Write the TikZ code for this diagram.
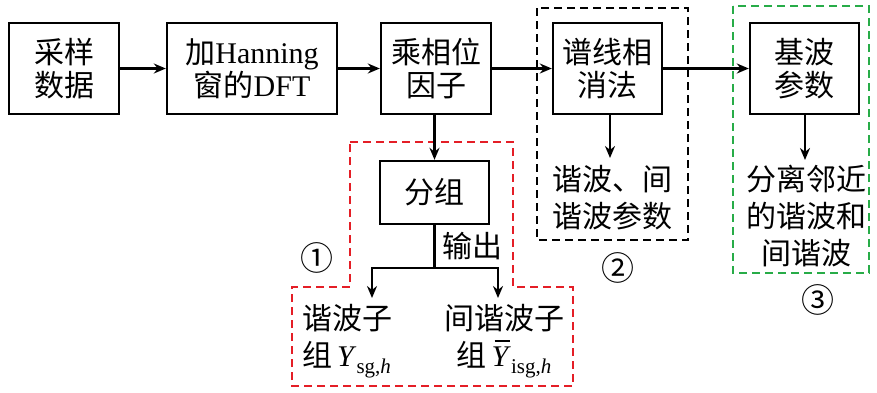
\documentclass[tikz,border=0pt]{standalone}
\usepackage{fontspec}
\setmainfont{Liberation Serif}
\newfontfamily\cjk{Noto Sans CJK SC}
\usetikzlibrary{arrows.meta}
\newcommand\zh[1]{{\cjk #1}}
\newcommand\subsc[1]{\raisebox{-0.22em}{\fontsize{21}{21}\selectfont #1}}
\newcommand\barY{\makebox[0pt][l]{\hspace{0.1em}\rule[0.8em]{0.5em}{2pt}}\textit{Y}}
\definecolor{rdash}{RGB}{228,30,38}
\definecolor{gdash}{RGB}{40,172,72}
\begin{document}
\begin{tikzpicture}[x=1pt,y=-1pt,
  blk/.style={draw, line width=2.4pt, inner sep=0pt, align=center,
    font=\fontsize{30}{33}\selectfont},
  txt/.style={inner sep=0pt, font=\fontsize{30}{37}\selectfont},
  circ/.style={inner sep=0pt, font=\fontsize{33}{36}\selectfont},
  arr/.style={line width=2.2pt, -{Stealth[length=12pt,width=10pt]}},
  ln/.style={line width=2.2pt},
  grp/.style={line width=2.2pt, dash pattern=on 8pt off 5pt}
]
\useasboundingbox (0,0) rectangle (877,392);
% main boxes
\node[blk, minimum width=110pt, minimum height=91pt] (b1) at (64,68.5) {\zh{采样}\\\zh{数据}};
\node[blk, minimum width=170pt, minimum height=91pt] (b2) at (252,68.5) {\zh{加}Hanning\\\zh{窗的}DFT};
\node[blk, minimum width=110pt, minimum height=91pt] (b3) at (436,68.5) {\zh{乘相位}\\\zh{因子}};
\node[blk, minimum width=109pt, minimum height=91pt] (b4) at (607.5,68.5) {\zh{谱线相}\\\zh{消法}};
\node[blk, minimum width=109pt, minimum height=91pt] (b5) at (804.5,68.5) {\zh{基波}\\\zh{参数}};
\node[blk, minimum width=109pt, minimum height=63pt] (g) at (434.5,192.5) {\zh{分组}};
% group frames
\draw[grp] (537,8) rectangle (688,240);
\draw[grp, gdash] (733,6) rectangle (869,273);
\draw[grp, rdash] (350,142) -- (513,142) -- (513,287) -- (573,287) -- (573,386)
  -- (292,386) -- (292,287) -- (350,287) -- cycle;
% text outputs
\node[txt, align=left, anchor=north west] (t4) at (552,165) {\zh{谐波、间}\\\zh{谐波参数}};
\node[txt, align=center, anchor=north] (t5) at (806,165) {\zh{分离邻近}\\\zh{的谐波和}\\\zh{间谐波}};
\node[txt, align=left, anchor=north west] (th) at (302,304) {\zh{谐波子}\\\zh{组}\,\textit{Y}\subsc{sg,\textit{h}}};
\node[txt, align=center, anchor=north] (ti) at (504,304) {\zh{间谐波子}\\\zh{组}\,\barY\subsc{isg,\textit{h}}};
\node[circ] (n1) at (317,258) {\zh{①}};
\node[circ] (n2) at (618,268) {\zh{②}};
\node[circ] (n3) at (818,300) {\zh{③}};
\node[txt, anchor=west] (out) at (442,246) {\zh{输出}};
% connectors
\coordinate (a4) at (610,158);
\coordinate (a5) at (805,160);
\coordinate (sp) at (434.5,268);
\coordinate (sl) at (372,268);
\coordinate (sr) at (498,268);
\coordinate (el) at (372,298);
\coordinate (er) at (498,298);
\draw[arr] (b1) -- (b2);
\draw[arr] (b2) -- (b3);
\draw[arr] (b3) -- (b4);
\draw[arr] (b4) -- (b5);
\draw[arr] (b3.south -| g.north) -- (g.north);
\draw[arr] (b4.south -| a4) -- (a4);
\draw[arr] (b5.south -| a5) -- (a5);
\draw[ln] (g.south) -- (sp);
\draw[arr] (sp) -- (sl) -- (el);
\draw[arr] (sp) -- (sr) -- (er);
\end{tikzpicture}
\end{document}
